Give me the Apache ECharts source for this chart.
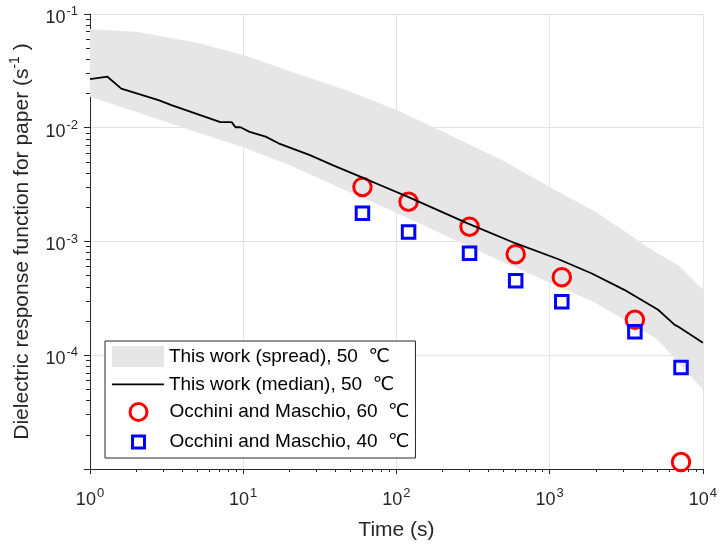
<!DOCTYPE html>
<html>
<head>
<meta charset="utf-8">
<script src="https://cdn.jsdelivr.net/npm/echarts@6/dist/echarts.min.js"></script>
<style>
  html, body { margin: 0; padding: 0; background: #fff; }
  #chart { width: 720px; height: 546px; }
</style>
</head>
<body>
<div id="chart"></div>
<script>
// spread band of this work (lower / upper envelope)
const bandT = [1, 2, 5, 10, 20, 50, 100, 200, 500, 1000, 2000, 5000, 7000, 10000]
const bandLo = [0.01875, 0.01384, 0.00914, 0.00673, 0.0047, 0.0027, 0.00179, 0.00116, 0.000658, 0.000435, 0.000288, 0.000139, 0.000085, 0.0000497]
const bandHi = [0.0738, 0.0699, 0.0558, 0.0436, 0.0316, 0.0207, 0.0143, 0.00927, 0.0051, 0.00302, 0.00182, 0.000794, 0.000611, 0.000376]

// median curve
const medT = [1, 1.3, 1.6, 2.8, 3.4, 7.1, 8.4, 8.9, 9.6, 11, 14, 17, 27, 39, 58, 78, 118, 289, 596, 1143, 1870, 3070, 5100, 6550, 6880, 10000]
const medV = [0.0268, 0.0281, 0.0221, 0.0175, 0.0158, 0.0112, 0.0112, 0.0101, 0.0101, 0.0092, 0.00835, 0.0073, 0.00577, 0.00465, 0.00372, 0.00314, 0.00248, 0.00145, 0.000966, 0.000698, 0.000526, 0.000376, 0.000251, 0.000185, 0.000179, 0.000129]

// Occhini and Maschio measurements
const occT = [60, 120, 300, 600, 1200, 3600, 7200]
const occ60 = [0.00302, 0.00224, 0.00135, 0.000773, 0.000485, 0.000205, 0.0000115]
const occ40 = [0.00177, 0.00121, 0.000789, 0.000451, 0.000295, 0.000161, 0.000078]

const names = [
  'This work (spread), 50  ℃',
  'This work (median), 50  ℃',
  'Occhini and Maschio, 60  ℃',
  'Occhini and Maschio, 40  ℃',
]

const xMinor = []
for (let d = 0; d < 4; d++) for (let k = 2; k < 10; k++) xMinor.push(k * Math.pow(10, d))
const yMinor = []
for (let d = -5; d < -1; d++) for (let k = 2; k < 10; k++) yMinor.push(+(k * Math.pow(10, d)).toPrecision(3))

const font = "'Liberation Sans', Arial, 'DejaVu Sans', sans-serif"
const axisColor = '#262626'
const gridColor = '#e3e3e3'
const bandColor = '#e6e6e6'

// legend icons: the leading moves fix the icon box to the full item size
const iconLine = 'path://M0,0M52,21M0,10.5L52,10.5'
const iconCircle = 'path://M0,0M52,17M17.5,8.5A8.5,8.5,0,1,1,34.5,8.5A8.5,8.5,0,1,1,17.5,8.5Z'
const iconSquare = 'path://M0,0M52,17M20,2.5L32,2.5L32,14.5L20,14.5Z'

const powRich = {
  b: { fontSize: 18, lineHeight: 22, verticalAlign: 'bottom', color: axisColor, fontFamily: font },
  s: { fontSize: 13, lineHeight: 13, verticalAlign: 'top', color: axisColor, fontFamily: font, padding: [0, 0, 0, 1] },
}
function powLabel(v) {
  const e = Math.round(Math.log10(v))
  if (e === -5) return ''
  return '{b|10}{s|' + e + '}'
}

const chart = echarts.init(document.getElementById('chart'))
const option = {
  animation: false,
  textStyle: { fontFamily: font },
  grid: { left: 89, right: 15, top: 14, bottom: 77 },
  legend: [
    {
      orient: 'vertical', left: 105, top: 341, z: 5,
      padding: [5, 6, 5, 6], itemGap: 6, itemWidth: 52, itemHeight: 21,
      selectedMode: false,
      textStyle: { fontSize: 19, color: '#000', fontFamily: font },
      data: [
        { name: names[0], icon: 'rect', itemStyle: { color: bandColor } },
        { name: names[1], icon: iconLine, itemStyle: { color: 'rgba(0,0,0,0)', borderColor: '#000', borderWidth: 1.8 } },
      ],
    },
    {
      orient: 'vertical', left: 105, top: 341, z: 4,
      padding: [61, 6, 6, 6], itemGap: 10, itemWidth: 52, itemHeight: 17,
      selectedMode: false,
      backgroundColor: '#fff', borderColor: axisColor, borderWidth: 1,
      textStyle: { fontSize: 19, color: '#000', fontFamily: font },
      data: [
        { name: names[2], icon: iconCircle, itemStyle: { color: 'rgba(0,0,0,0)', borderColor: '#ff0000', borderWidth: 3 } },
        { name: names[3], icon: iconSquare, itemStyle: { color: 'rgba(0,0,0,0)', borderColor: '#0000ff', borderWidth: 3 } },
      ],
    },
  ],
  xAxis: [
    {
      type: 'log', logBase: 10, min: 1, max: 10000,
      name: 'Time (s)', nameLocation: 'middle', nameGap: 51,
      nameTextStyle: { fontSize: 21, color: axisColor, fontFamily: font },
      axisLine: { lineStyle: { color: axisColor, width: 1 } },
      axisTick: { length: 5, lineStyle: { color: axisColor } },
      axisLabel: { formatter: powLabel, margin: 18, rich: powRich },
      splitLine: { show: true, lineStyle: { color: gridColor, width: 1 } },
    },
    {
      type: 'log', logBase: 10, min: 1, max: 10000, position: 'bottom',
      axisLine: { show: false },
      axisTick: { show: true, length: 3, customValues: xMinor, lineStyle: { color: axisColor } },
      axisLabel: { show: false },
      splitLine: { show: false },
    },
  ],
  yAxis: [
    {
      type: 'log', logBase: 10, min: 0.00001, max: 0.1,
      name: '{t|Dielectric response function for paper (s}{s|-1}{t| )}',
      nameLocation: 'middle', nameGap: 57,
      nameTextStyle: {
        color: axisColor,
        rich: {
          t: { fontSize: 21, lineHeight: 25, verticalAlign: 'bottom', color: axisColor, fontFamily: font },
          s: { fontSize: 14, lineHeight: 14, verticalAlign: 'top', color: axisColor, fontFamily: font },
        },
      },
      axisLine: { lineStyle: { color: axisColor, width: 1 } },
      axisTick: { length: 6, lineStyle: { color: axisColor } },
      axisLabel: { formatter: powLabel, margin: 12, padding: [4, 0, 0, 0], rich: powRich },
      splitLine: { show: true, lineStyle: { color: gridColor, width: 1 } },
    },
    {
      type: 'log', logBase: 10, min: 0.00001, max: 0.1, position: 'left',
      axisLine: { show: false },
      axisTick: { show: true, length: 4, customValues: yMinor, lineStyle: { color: axisColor } },
      axisLabel: { show: false },
      splitLine: { show: false },
    },
  ],
  series: [
    {
      name: names[0],
      type: 'custom',
      xAxisIndex: 0, yAxisIndex: 0,
      clip: true,
      itemStyle: { color: bandColor },
      encode: { x: 0, y: [1, 2] },
      data: bandT.map((t, i) => [t, bandLo[i], bandHi[i]]),
      renderItem: function (params, api) {
        if (params.dataIndex !== 0) return null
        const pts = []
        for (let i = 0; i < bandT.length; i++) pts.push(api.coord([bandT[i], bandHi[i]]))
        for (let i = bandT.length - 1; i >= 0; i--) pts.push(api.coord([bandT[i], bandLo[i]]))
        return { type: 'polygon', shape: { points: pts }, style: { fill: bandColor } }
      },
    },
    {
      name: names[1],
      type: 'line',
      xAxisIndex: 0, yAxisIndex: 0,
      symbol: 'none',
      lineStyle: { color: '#000', width: 1.8 },
      itemStyle: { color: '#000' },
      data: medT.map((t, i) => [t, medV[i]]),
    },
    {
      name: names[2],
      type: 'scatter',
      xAxisIndex: 0, yAxisIndex: 0,
      symbol: 'circle', symbolSize: 17.5,
      itemStyle: { color: 'rgba(0,0,0,0)', borderColor: '#ff0000', borderWidth: 3, opacity: 1 },
      data: occT.map((t, i) => [t, occ60[i]]),
    },
    {
      name: names[3],
      type: 'scatter',
      xAxisIndex: 0, yAxisIndex: 0,
      symbol: 'rect', symbolSize: 12.5,
      itemStyle: { color: 'rgba(0,0,0,0)', borderColor: '#0000ff', borderWidth: 3, opacity: 1 },
      data: occT.map((t, i) => [t, occ40[i]]),
    },
  ],
}
option && chart.setOption(option)
</script>
</body>
</html>
